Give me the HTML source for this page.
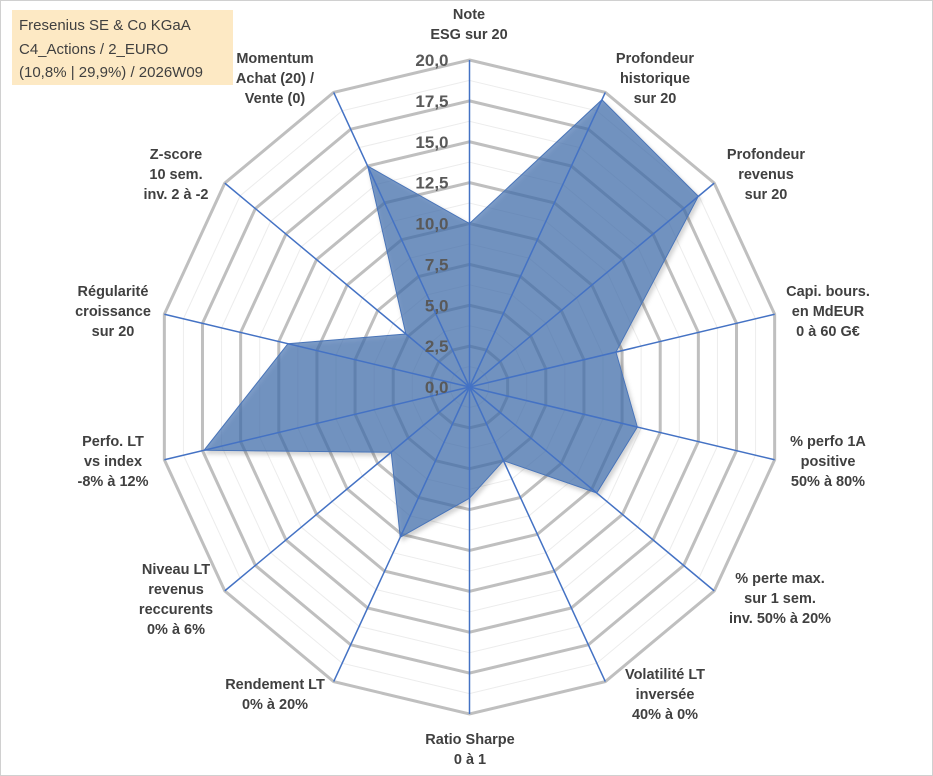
<!DOCTYPE html>
<html><head><meta charset="utf-8"><style>
html,body{margin:0;padding:0;background:#fff;}
svg{display:block;font-family:"Liberation Sans",Arial,sans-serif;}
.lbl{font-weight:bold;font-size:14.5px;fill:#404040;text-anchor:middle;}
.tick{font-weight:bold;font-size:17px;fill:#595959;text-anchor:end;}
</style></head><body>
<svg id="chart" width="933" height="776" viewBox="0 0 933 776">
<defs><filter id="sh" x="-10%" y="-10%" width="130%" height="130%"><feDropShadow dx="2" dy="3" stdDeviation="2" flood-color="#000" flood-opacity="0.25"/></filter></defs>
<rect x="0.5" y="0.5" width="932" height="775" fill="#fff" stroke="#d0d0d0"/>
<g id="grid"></g>
<g id="series"></g>
<g id="axes"></g>
<g id="ticks"></g>
<g id="labels"></g>
<rect x="12" y="10" width="221" height="75" fill="#fde9c4"/>
<text x="19" y="30" font-size="15" fill="#404040">Fresenius SE &amp; Co KGaA</text>
<text x="19" y="54" font-size="15" fill="#404040">C4_Actions / 2_EURO</text>
<text x="19" y="77" font-size="15" fill="#404040">(10,8% | 29,9%) / 2026W09</text>
</svg>
<script>
const categories = [
 ["Note","ESG sur 20"],
 ["Profondeur","historique","sur 20"],
 ["Profondeur","revenus","sur 20"],
 ["Capi. bours.","en MdEUR","0 à 60 G€"],
 ["% perfo 1A","positive","50% à 80%"],
 ["% perte max.","sur 1 sem.","inv. 50% à 20%"],
 ["Volatilité LT","inversée","40% à 0%"],
 ["Ratio Sharpe","0 à 1"],
 ["Rendement LT","0% à 20%"],
 ["Niveau LT","revenus","reccurents","0% à 6%"],
 ["Perfo. LT","vs index","-8% à 12%"],
 ["Régularité","croissance","sur 20"],
 ["Z-score","10 sem.","inv. 2 à -2"],
 ["Momentum","Achat (20) /","Vente (0)"]
];
const values = [10.0, 19.5, 18.7, 9.6, 11.0, 10.4, 5.0, 6.8, 10.2, 6.4, 17.4, 11.9, 5.2, 15.0];
const tickValues = [0, 2.5, 5, 7.5, 10, 12.5, 15, 17.5, 20];
const tickLabels = ["0,0","2,5","5,0","7,5","10,0","12,5","15,0","17,5","20,0"];
const labelPos = [[469,14],[655,58],[766,154],[828,291],[828,441],[780,578],[665,674],[470,739],[275,684],[176,569],[113,441],[113,291],[176,154],[275,58]];

const NS="http://www.w3.org/2000/svg";
const cx=469.5, cy=387, Rx=313, Ry=327, maxV=20;
const N=categories.length;
function pt(i,v){const a=i*2*Math.PI/N;return [cx+Math.sin(a)*Rx*v/maxV, cy-Math.cos(a)*Ry*v/maxV];}
function mk(tag,attrs,parent){const e=document.createElementNS(NS,tag);for(const k in attrs)e.setAttribute(k,attrs[k]);parent.appendChild(e);return e;}
const grid=document.getElementById('grid');
for(let s=1;s<=16;s++){
  const v=s*1.25;
  const p=[];for(let i=0;i<N;i++)p.push(pt(i,v).join(','));
  const major=s%2===0;
  const g=mk('polygon',{points:p.join(' '),fill:'none',stroke:major?'#bfbfbf':'#ececec','stroke-width':major?3:1},grid);
  
  
}
const ser=document.getElementById('series');
const sp=values.map((v,i)=>pt(i,v).join(','));
const poly=mk('polygon',{points:sp.join(' '),fill:'#3f6fae','fill-opacity':'0.68',stroke:'#4a74b8','stroke-width':1,filter:'url(#sh)'},ser);


const axes=document.getElementById('axes');
for(let i=0;i<N;i++){
  const [x,y]=pt(i,maxV);
  const l=mk('line',{x1:cx,y1:cy,x2:x,y2:y,stroke:'#4472c4','stroke-width':1.5},axes);
  
  
}
const ticks=document.getElementById('ticks');
tickValues.forEach((v,k)=>{
  const [x,y]=pt(0,v);
  const t=mk('text',{x:x-21,y:y+6,class:'tick'},ticks);
  t.textContent=tickLabels[k];
  
  
});
const labels=document.getElementById('labels');
categories.forEach((lines,i)=>{
  const [x,y]=labelPos[i];
  const t=mk('text',{class:'lbl'},labels);
  
  
  lines.forEach((s,j)=>{const ts=mk('tspan',{x:x,y:y+5+j*20},t);ts.textContent=s;});
});
</script>
</body></html>
